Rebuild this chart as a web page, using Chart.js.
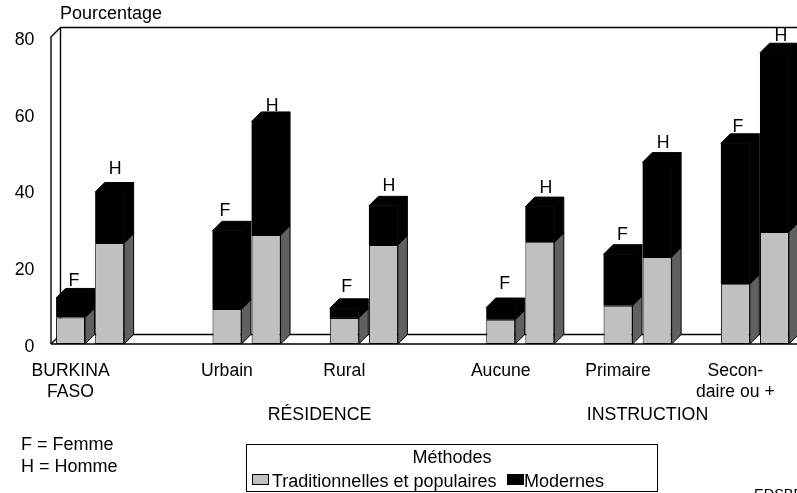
<!DOCTYPE html>
<html><head><meta charset="utf-8">
<style>html,body{margin:0;padding:0;background:#fff}canvas{display:block}</style>
<script src="https://cdn.jsdelivr.net/npm/chart.js@4"></script>
</head><body><canvas id="c" width="797" height="493"></canvas>
<script>
const categories = [["BURKINA","FASO"],"","","","Urbain","","","Rural","","","","Aucune","","","Primaire","","",["Secon-","daire ou +"],""];
const sexMarks   = ["F","H",null,null,"F","H",null,"F","H",null,null,"F","H",null,"F","H",null,"F","H"];
const traditionnelles = [6.9,26.3,null,null,9.1,28.4,null,6.8,25.8,null,null,6.3,26.5,null,10,22.7,null,15.6,29.2];
const modernes        = [5.1,13.3,null,null,20.4,29.6,null,2.5,10.2,null,null,3.2,9.3,null,13.4,24.7,null,36.7,46.7];
const yTicks = [0,20,40,60,80];
const seriesNames = ["Traditionnelles et populaires","Modernes"];
const legendTitle = "Méthodes";
const yTitle = "Pourcentage";
const groupTitles = ["RÉSIDENCE","INSTRUCTION"];
const keyLines = ["F = Femme","H = Homme"];
const sourceText = "EDSBF";

const DEPTH = 9.5, FAMILY='"Liberation Sans", Arial, sans-serif', SIZE=17.8, FONT = SIZE+'px '+FAMILY, GRAY = '#c0c0c0', SIDE = '#606060';
const markDx = {0:3.5,1:5.5,4:-2,5:6,7:2.5,8:5.5,11:4,12:6,14:4.5,15:6,17:2.5,18:6.5};
const markDy = {0:-7.5,1:-13.5,4:-10.5,5:-6,7:-11.5,8:-10.5,11:-13.5,12:-9.5,14:-9.5,15:-9.5,17:-6.5,18:-7};

function poly(ctx, pts, fill){
  ctx.beginPath(); pts.forEach((p,i)=>i?ctx.lineTo(p[0],p[1]):ctx.moveTo(p[0],p[1])); ctx.closePath();
  ctx.fillStyle=fill; ctx.fill(); ctx.strokeStyle='#000'; ctx.lineWidth=1; ctx.stroke();
}
const walls = {
  id:'walls',
  beforeDatasetsDraw(chart){
    const {ctx,scales:{y},chartArea:a}=chart, top=y.getPixelForValue(80), base=y.getPixelForValue(0);
    const L=a.left, R=chart.width+2, d=DEPTH;
    ctx.save(); ctx.strokeStyle='#000'; ctx.lineWidth=1.4;
    ctx.beginPath();
    ctx.moveTo(L,base); ctx.lineTo(L,top); ctx.lineTo(L+d,top-d); ctx.lineTo(R,top-d);
    ctx.moveTo(L+d,top-d); ctx.lineTo(L+d,base-d); ctx.lineTo(R,base-d);
    ctx.moveTo(L,base); ctx.lineTo(L+d,base-d);
    ctx.moveTo(L,base); ctx.lineTo(R,base);
    ctx.stroke(); ctx.restore();
  }
};
const faces = {
  id:'faces',
  afterDatasetsDraw(chart){
    const {ctx,scales:{y}}=chart, d=DEPTH, base=y.getPixelForValue(0), m0=chart.getDatasetMeta(0).data, m1=chart.getDatasetMeta(1).data;
    ctx.save();
    sexMarks.forEach((mark,i)=>{
      if(!mark) return;
      const g=m0[i], b=m1[i], r=g.x+g.width/2, l=g.x-g.width/2;
      poly(ctx,[[r,g.y],[r+d,g.y-d],[r+d,base-d],[r,base]],SIDE);
      poly(ctx,[[r,b.y],[r+d,b.y-d],[r+d,g.y-d],[r,g.y]],'#000');
      poly(ctx,[[l,b.y],[l+d,b.y-d],[r+d,b.y-d],[r,b.y]],'#000');
      ctx.fillStyle='#000'; ctx.font=FONT; ctx.textAlign='center'; ctx.textBaseline='middle';
      ctx.fillText(mark,g.x+markDx[i],b.y-d+markDy[i]);
    });
    ctx.restore();
  }
};
const annotations = {
  id:'annotations',
  afterDraw(chart){
    const {ctx}=chart; ctx.save();
    ctx.fillStyle='#000'; ctx.font='18px '+FAMILY; ctx.textBaseline='middle'; ctx.textAlign='left';
    ctx.fillText(yTitle,60,14);
    ctx.fillText(keyLines[0],21,445); ctx.fillText(keyLines[1],21,467);
    ctx.textAlign='center';
    ctx.font=FONT;
    ctx.fillText(groupTitles[0],319.5,415); ctx.fillText(groupTitles[1],647.5,415);
    ctx.font='18px '+FAMILY;
    ctx.strokeStyle='#000'; ctx.lineWidth=1; ctx.strokeRect(246.5,444.5,411,47);
    ctx.fillText(legendTitle,452,458);
    ctx.textAlign='left';
    ctx.fillStyle=GRAY; ctx.fillRect(252.5,474.5,16,10); ctx.strokeRect(252.5,474.5,16,10);
    ctx.fillStyle='#000'; ctx.fillText(seriesNames[0],272,482);
    ctx.fillRect(507.5,474.5,16,10); ctx.strokeRect(507.5,474.5,16,10);
    ctx.fillText(seriesNames[1],524,482);
    ctx.font='14.5px '+FAMILY; ctx.textBaseline='alphabetic';
    ctx.fillText(sourceText,754,499);
    ctx.restore();
  }
};
new Chart(document.getElementById('c'),{
  type:'bar',
  data:{labels:categories,datasets:[
    {label:seriesNames[0],data:traditionnelles,backgroundColor:GRAY,borderColor:'#000',borderWidth:1,borderSkipped:false},
    {label:seriesNames[1],data:modernes,backgroundColor:'#000',borderWidth:0}
  ]},
  options:{
    responsive:false,animation:false,devicePixelRatio:1,
    barPercentage:0.74,categoryPercentage:1,
    layout:{padding:{left:0,right:3,top:37,bottom:0}},
    plugins:{legend:{display:false},tooltip:{enabled:false},title:{display:false}},
    scales:{
      x:{stacked:true,afterFit(s){s.height=149;},grid:{display:false},border:{display:false},
        ticks:{autoSkip:false,maxRotation:0,minRotation:0,color:'#000',font:{family:FAMILY,size:17.6,lineHeight:1.22},padding:8}},
      y:{stacked:true,min:0,max:80,afterBuildTicks(s){s.ticks=yTicks.map(v=>({value:v}));},
        afterFit(s){s.width=51;},
        grid:{display:false},border:{display:false},
        ticks:{color:'#000',font:{family:FAMILY,size:SIZE},padding:8.5,labelOffset:3}}
    }
  },
  plugins:[walls,faces,annotations]
});
</script></body></html>
